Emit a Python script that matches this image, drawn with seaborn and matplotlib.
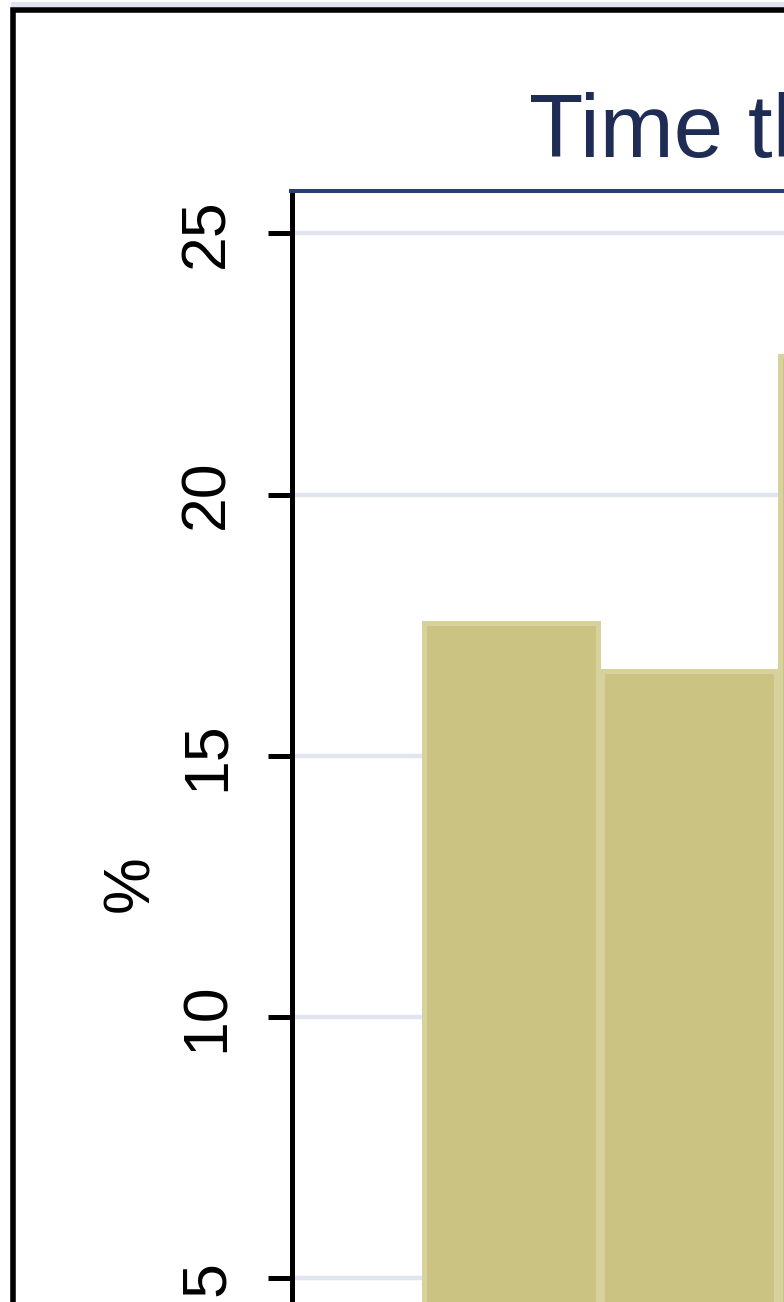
import matplotlib
matplotlib.use("Agg")
import matplotlib.pyplot as plt
import seaborn as sns
from matplotlib.patches import Rectangle

# visible part of the chart (cropped histogram)
title = "Time th"
y_label = "%"
bins = ["1", "2", "3"]
percent = [17.55, 16.63, 22.65]
y_ticks = [0, 5, 10, 15, 20, 25]

sns.set_style("white")
plt.rcParams["font.family"] = ["Liberation Sans", "DejaVu Sans"]

W, H = 784, 1302
fig = plt.figure(figsize=(W / 100, H / 100), dpi=100)

def fx(px):
    return px / W

def fy(py):
    return 1 - py / H

# outer frame (runs past the right and bottom edges)
fig.add_artist(Rectangle((fx(11), fy(7)), fx(1000), 5 / H, transform=fig.transFigure,
                         facecolor="#e1e4ee", edgecolor="none"))
fig.add_artist(Rectangle((fx(13.5), fy(2000)), fx(2000), (2000 - 10) / H,
                         transform=fig.transFigure, facecolor="none",
                         edgecolor="black", linewidth=4.0))

# plot region: left spine at x=291.5px, top line at y=191px
px_per_bin = 178.0
ax_left, ax_right = 291.5, 1700.0
ax_top, ax_bottom = 191.0, 1539.5
ax = fig.add_axes([fx(ax_left), fy(ax_bottom), (ax_right - ax_left) / W,
                   (ax_bottom - ax_top) / H])

sns.barplot(x=bins, y=percent, color="#cbc382", saturation=1, width=0.972,
            edgecolor="#d7d19e", linewidth=3.6, ax=ax)

x0 = -0.5 - (422 - ax_left) / px_per_bin
ax.set_xlim(x0, x0 + (ax_right - ax_left) / px_per_bin)
ax.set_ylim(0, 25.81)
ax.set_yticks(y_ticks)
ax.set_yticklabels([str(t) for t in y_ticks])
ax.set_xticks([])
ax.set_xlabel("")

ax.set_axisbelow(True)
ax.yaxis.grid(True, color="#e1e5f0", linewidth=3.2)
ax.xaxis.grid(False)

for side in ["right", "bottom"]:
    ax.spines[side].set_visible(False)
ax.spines["left"].set_color("black")
ax.spines["left"].set_linewidth(3.6)
ax.spines["top"].set_color("#2b3f6e")
ax.spines["top"].set_linewidth(2.9)

ax.tick_params(axis="y", left=True, direction="out", length=17.6, width=3.6,
               color="black", labelsize=45, labelrotation=90, pad=22, labelcolor="black")
for lab in ax.get_yticklabels():
    lab.set_va("center")

ax.set_ylabel(y_label, fontsize=46, color="black", rotation=90)
ax.yaxis.label.set_va("center")
ax.yaxis.set_label_coords((131 - ax_left) / (ax_right - ax_left),
                          (ax_bottom - 884) / (ax_bottom - ax_top))

fig.text(fx(529), fy(157), title, ha="left", va="baseline", fontsize=64,
         color="#1f2d55")

fig.savefig("out.png", dpi=100)
